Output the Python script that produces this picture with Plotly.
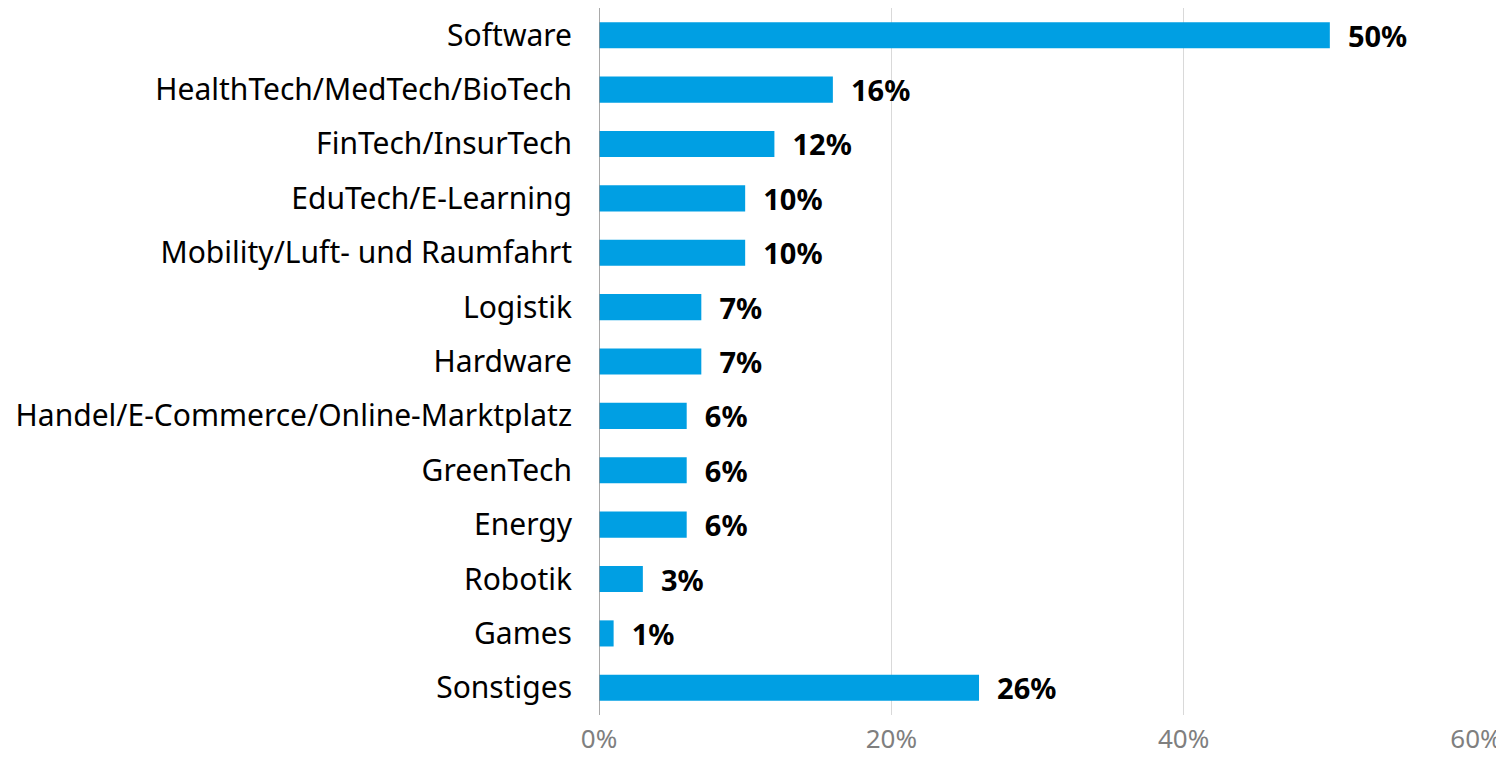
import plotly.graph_objects as go

categories = ["Software", "HealthTech/MedTech/BioTech", "FinTech/InsurTech", "EduTech/E-Learning",
              "Mobility/Luft- und Raumfahrt", "Logistik", "Hardware",
              "Handel/E-Commerce/Online-Marktplatz", "GreenTech", "Energy", "Robotik", "Games", "Sonstiges"]
values = [50, 16, 12, 10, 10, 7, 7, 6, 6, 6, 3, 1, 26]
tick_vals = [0, 20, 40, 60]
tick_text = ["0%", "20%", "40%", "60%"]

FONT = "Noto Sans"

fig = go.Figure(go.Bar(
    x=values, y=categories, orientation="h",
    marker=dict(color="#009FE3", line=dict(width=0)),
    width=0.48,
    text=[f"{v}%" for v in values],
    texttemplate="  <b>%{text}</b>",
    textposition="outside",
    constraintext="none",
    cliponaxis=False,
    textfont=dict(family=FONT, size=29, color="#000000"),
))

# page body has an 8px margin, so the figure is offset by 8px right and down
fig.update_layout(
    width=1496, height=749,
    margin=dict(l=591, r=28, t=0, b=42, autoexpand=False),
    plot_bgcolor="white", paper_bgcolor="white",
    showlegend=False,
    font=dict(family=FONT),
    xaxis=dict(range=[0, 60], tickvals=tick_vals, ticktext=tick_text,
               showgrid=True, gridcolor="#D9D9D9", gridwidth=1,
               zeroline=False, showline=False, automargin=False,
               tickfont=dict(family=FONT, size=26, color="#7F7F7F"),
               ticks="", ticklen=0, ticklabelstandoff=6),
    yaxis=dict(autorange="reversed", showgrid=False, zeroline=False,
               showline=False, ticks="", ticklabelstandoff=26, automargin=False,
               tickfont=dict(family=FONT, size=30, color="#000000")),
    shapes=[dict(type="line", xref="x", yref="paper", x0=0, x1=0, y0=0, y1=1,
                 line=dict(color="#8C8C8C", width=1.5))],
)

fig.write_html("out.html")
